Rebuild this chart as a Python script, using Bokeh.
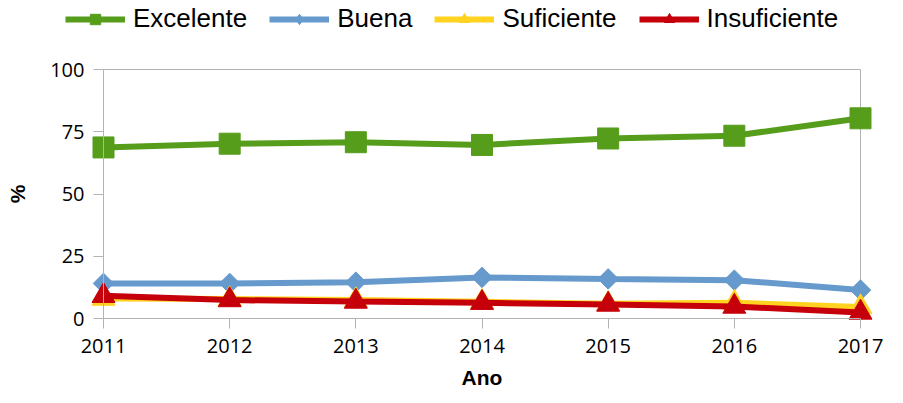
import math
from bokeh.plotting import figure
from bokeh.models import Range1d, FixedTicker, Legend, LegendItem
from bokeh.embed import file_html
from bokeh.resources import INLINE

# ---- data ----
years = [2011, 2012, 2013, 2014, 2015, 2016, 2017]
excelente = [68.7, 70.2, 70.8, 69.7, 72.3, 73.4, 80.4]
buena = [14.1, 14.1, 14.6, 16.5, 15.9, 15.4, 11.4]
suficiente = [8.0, 7.8, 7.4, 6.7, 5.9, 6.3, 4.6]
insuficiente = [9.1, 7.4, 6.8, 6.3, 5.6, 4.8, 2.4]
y_ticks = [0, 25, 50, 75, 100]
series_names = ["Excelente", "Buena", "Suficiente", "Insuficiente"]
x_label = "Ano"
y_label = "%"

# ---- styles ----
colors = ["#579D1C", "#6699CC", "#FFD320", "#C5000B"]
grey = "#b3b3b3"
tick_font = "Open Sans"
text_font = "Liberation Sans"

W, H = 887, 387
# pixel geometry of the plotting area (frame covers the whole canvas)
x_left_px, x_right_px = 103, 860     # where first / last year sit
y0_px, y100_px = 318, 69             # where 0 and 100 sit (from top)
ppx = (x_right_px - x_left_px) / (years[-1] - years[0])
ppy = (y0_px - y100_px) / (y_ticks[-1] - y_ticks[0])

p = figure(width=W, height=H,
           x_range=Range1d(years[0] - x_left_px / ppx, years[-1] + (W - x_right_px) / ppx),
           y_range=Range1d(y_ticks[0] - (H - y0_px) / ppy, y_ticks[-1] + y100_px / ppy),
           output_backend="svg", toolbar_location=None)
p.min_border = 0
p.xgrid.visible = False
p.ygrid.visible = False
p.outline_line_color = None
p.background_fill_color = "white"
p.border_fill_color = "white"

# plot-area border (top and right)
p.line([years[0], years[-1], years[-1]], [y_ticks[-1], y_ticks[-1], y_ticks[0]],
       line_color=grey, line_width=1)

series = [excelente, buena, suficiente, insuficiente]
# (plot marker, size, angle, legend marker)
markers = [("square", 21, 0, None), ("square", 14.5, math.pi / 4, "diamond"),
           ("triangle", 23, 0, None), ("triangle", 23, 0, None)]
items = []
for name, vals, col, (mk, sz, ang, leg_mk) in zip(series_names, series, colors, markers):
    lr = p.line(years, vals, line_color=col, line_width=6)
    rends = [lr]
    if leg_mk:
        # inscribed diamond (hidden under the rotated square); used for the legend glyph
        dr = p.scatter(years, vals, marker=leg_mk, size=sz * 1.3,
                       fill_color=col, line_color=col)
        rends.append(dr)
    sr = p.scatter(years, vals, marker=mk, size=sz, angle=ang,
                   fill_color=col, line_color=col)
    if not leg_mk:
        rends.append(sr)
    items.append(LegendItem(label=name, renderers=rends))

legend = Legend(items=items, orientation="horizontal", location=(65, H - 34),
                label_text_font=text_font, label_text_font_size="26px",
                label_text_color="#000000",
                border_line_color=None, background_fill_alpha=0,
                padding=0, margin=0, spacing=22, label_standoff=8,
                glyph_width=60, glyph_height=26, label_height=26)
p.add_layout(legend, "center")

# axes (fixed inside the canvas-sized frame)
xa = p.xaxis[0]
xa.ticker = FixedTicker(ticks=years)
xa.fixed_location = y_ticks[0]
xa.bounds = (years[0], years[-1])
xa.axis_label = x_label
ya = p.yaxis[0]
ya.ticker = FixedTicker(ticks=y_ticks)
ya.fixed_location = years[0]
ya.bounds = (y_ticks[0], y_ticks[-1])
ya.axis_label = y_label

for ax in (xa, ya):
    ax.axis_line_color = grey
    ax.major_tick_line_color = grey
    ax.minor_tick_line_color = None
    ax.major_tick_in = 0
    ax.major_tick_out = 10
    ax.major_label_text_font = tick_font
    ax.major_label_text_font_size = "20px"
    ax.major_label_text_color = "#000000"
    ax.axis_label_text_font = text_font
    ax.axis_label_text_font_size = "21px"
    ax.axis_label_text_font_style = "bold"
    ax.axis_label_text_color = "#000000"

xa.major_label_standoff = 10
xa.axis_label_standoff = 10
ya.major_label_standoff = 9
ya.axis_label_standoff = 18

open("out.html", "w").write(file_html(p, INLINE))
